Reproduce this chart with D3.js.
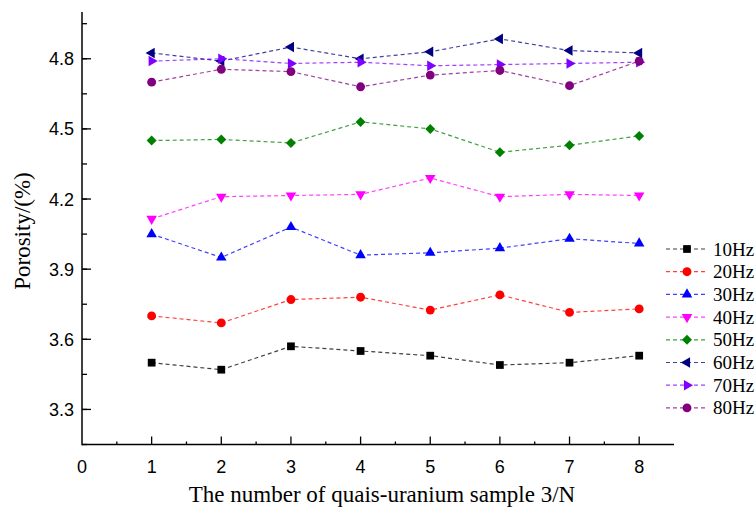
<!DOCTYPE html>
<html>
<head>
<meta charset="utf-8">
<script src="https://cdn.jsdelivr.net/npm/d3@7/dist/d3.min.js"></script>
<style>
  html, body { margin: 0; padding: 0; background: #fff; }
  svg { display: block; }
</style>
</head>
<body>
<svg id="chart" width="756" height="511"></svg>
<script>
// Sample index along the x axis
const samples = [1, 2, 3, 4, 5, 6, 7, 8];

// Porosity (%) measured at each vibration frequency
const hz10 = [3.50, 3.47, 3.57, 3.55, 3.53, 3.49, 3.50, 3.53];
const hz20 = [3.70, 3.67, 3.77, 3.78, 3.725, 3.79, 3.715, 3.73];
const hz30 = [4.05, 3.95, 4.08, 3.96, 3.97, 3.99, 4.03, 4.01];
const hz40 = [4.115, 4.21, 4.215, 4.22, 4.29, 4.21, 4.22, 4.215];
const hz50 = [4.45, 4.455, 4.44, 4.53, 4.50, 4.40, 4.43, 4.47];
const hz60 = [4.825, 4.79, 4.85, 4.80, 4.83, 4.885, 4.835, 4.825];
const hz70 = [4.79, 4.80, 4.78, 4.785, 4.77, 4.775, 4.78, 4.785];
const hz80 = [4.70, 4.755, 4.745, 4.68, 4.73, 4.75, 4.685, 4.79];

const seriesNames = ["10Hz", "20Hz", "30Hz", "40Hz", "50Hz", "60Hz", "70Hz", "80Hz"];
const seriesValues = [hz10, hz20, hz30, hz40, hz50, hz60, hz70, hz80];

const xTicks = [0, 1, 2, 3, 4, 5, 6, 7, 8];
const yTicks = [3.3, 3.6, 3.9, 4.2, 4.5, 4.8];

// Styling per series: colour and marker shape
const colors = ["#000000", "#ff0000", "#0000ff", "#ff00ff", "#008000", "#000080", "#8000ff", "#800080"];
const markers = [
  { type: d3.symbolSquare, size: 60, rotate: 0 },
  { type: d3.symbolCircle, size: 62, rotate: 0 },
  { type: d3.symbolTriangle, size: 48, rotate: 0 },
  { type: d3.symbolTriangle, size: 48, rotate: 180 },
  { type: d3.symbolSquare, size: 50, rotate: 45 },
  { type: d3.symbolTriangle, size: 48, rotate: -90 },
  { type: d3.symbolTriangle, size: 48, rotate: 90 },
  { type: d3.symbolCircle, size: 62, rotate: 0 }
];

const svg = d3.select("#chart");

const x = d3.scaleLinear().domain([0, 8.5]).range([82, 674]);
const y = d3.scaleLinear().domain([3.15, 5.0]).range([444.5, 12]);

// Y axis: minor ticks every 0.15, major every 0.3, ticks pointing inward
const yMinor = d3.range(3.15, 5.0001, 0.15).map(v => +v.toFixed(2));
const yAxisG = svg.append("g");
yAxisG.selectAll("line.minor").data(yMinor).join("line")
  .attr("x1", x(0)).attr("x2", x(0) + 5)
  .attr("y1", d => y(d)).attr("y2", d => y(d))
  .attr("stroke", "#000").attr("stroke-width", 1.3);
yAxisG.selectAll("line.major").data(yTicks).join("line")
  .attr("x1", x(0)).attr("x2", x(0) + 9)
  .attr("y1", d => y(d)).attr("y2", d => y(d))
  .attr("stroke", "#000").attr("stroke-width", 1.3);
yAxisG.selectAll("text").data(yTicks).join("text")
  .attr("x", x(0) - 8).attr("y", d => y(d) + 6.5)
  .attr("text-anchor", "end")
  .attr("font-family", "Liberation Sans, Arial, sans-serif")
  .attr("font-size", 18)
  .text(d => d.toFixed(1));
yAxisG.append("line")
  .attr("x1", x(0)).attr("x2", x(0))
  .attr("y1", y.range()[0] + 0.7).attr("y2", y.range()[1])
  .attr("stroke", "#000").attr("stroke-width", 1.5);

// X axis: major ticks at integers, small minor ticks at halves
const xMinor = d3.range(0.5, 8.5, 1);
const xAxisG = svg.append("g");
xAxisG.selectAll("line.minor").data(xMinor).join("line")
  .attr("x1", d => x(d)).attr("x2", d => x(d))
  .attr("y1", y(3.15)).attr("y2", y(3.15) - 3)
  .attr("stroke", "#000").attr("stroke-width", 1.3);
xAxisG.selectAll("line.major").data(xTicks.filter(d => d > 0)).join("line")
  .attr("x1", d => x(d)).attr("x2", d => x(d))
  .attr("y1", y(3.15)).attr("y2", y(3.15) - 8)
  .attr("stroke", "#000").attr("stroke-width", 1.3);
xAxisG.selectAll("text").data(xTicks).join("text")
  .attr("x", d => x(d)).attr("y", y(3.15) + 28)
  .attr("text-anchor", "middle")
  .attr("font-family", "Liberation Sans, Arial, sans-serif")
  .attr("font-size", 18)
  .text(d => d);
xAxisG.append("line")
  .attr("x1", x(0)).attr("x2", x(8.5))
  .attr("y1", y(3.15)).attr("y2", y(3.15))
  .attr("stroke", "#000").attr("stroke-width", 1.5);

// Axis titles
svg.append("text")
  .attr("x", 382).attr("y", 502)
  .attr("text-anchor", "middle")
  .attr("font-family", "Liberation Serif, Times New Roman, serif")
  .attr("font-size", 23)
  .text("The number of quais-uranium sample 3/N");
svg.append("text")
  .attr("transform", "translate(30,231) rotate(-90)")
  .attr("text-anchor", "middle")
  .attr("font-family", "Liberation Serif, Times New Roman, serif")
  .attr("font-size", 23)
  .text("Porosity/(%)");

// Series lines and markers
const line = d3.line().x((d, i) => x(samples[i])).y(d => y(d));
const symbolPath = m => d3.symbol().type(m.type).size(m.size)();

seriesValues.forEach((vals, si) => {
  const g = svg.append("g");
  g.append("path")
    .attr("d", line(vals))
    .attr("fill", "none")
    .attr("stroke", colors[si])
    .attr("stroke-width", 1.2)
    .attr("stroke-opacity", 0.75)
    .attr("stroke-dasharray", "4,3");
  g.selectAll("path.pt").data(vals).join("path")
    .attr("class", "pt")
    .attr("d", symbolPath(markers[si]))
    .attr("transform", (d, i) => `translate(${x(samples[i])},${y(d)}) rotate(${markers[si].rotate})`)
    .attr("fill", colors[si]);
});

// Legend
const legend = svg.append("g");
seriesNames.forEach((name, i) => {
  const ly = 249 + i * 22.7;
  legend.append("line")
    .attr("x1", 666).attr("x2", 708)
    .attr("y1", ly).attr("y2", ly)
    .attr("stroke", colors[i])
    .attr("stroke-width", 1.2)
    .attr("stroke-opacity", 0.75)
    .attr("stroke-dasharray", "4,3");
  legend.append("path")
    .attr("d", symbolPath(markers[i]))
    .attr("transform", `translate(687,${ly}) rotate(${markers[i].rotate})`)
    .attr("fill", colors[i]);
  legend.append("text")
    .attr("x", 713).attr("y", ly + 6.5)
    .attr("font-family", "Liberation Serif, Times New Roman, serif")
    .attr("font-size", 19)
    .text(name);
});
</script>
</body>
</html>
